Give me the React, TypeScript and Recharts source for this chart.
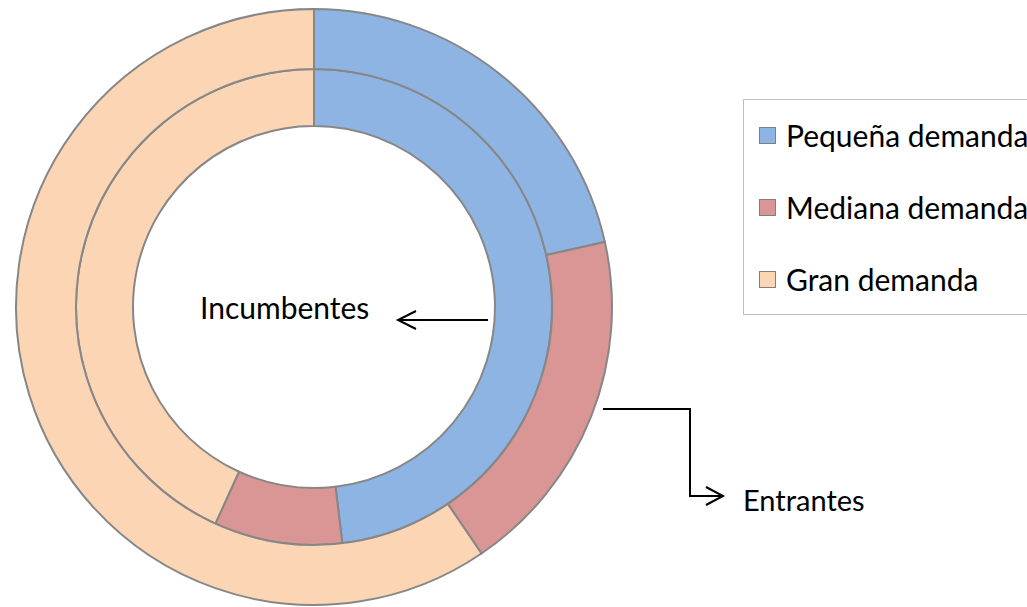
import React from 'react';
import { PieChart, Pie, Cell, Legend, Customized } from 'recharts';

const categories = ['Pequeña demanda', 'Mediana demanda', 'Gran demanda'];
const colors = ['#8EB4E3', '#D99694', '#FCD5B5'];
// share of each group (%)
const incumbentes = [48.1, 8.7, 43.2];
const entrantes = [21.5, 19.0, 59.5];
const ringNames = ['Incumbentes', 'Entrantes'];

const innerData = categories.map((name, i) => ({ name, value: incumbentes[i] }));
const outerData = categories.map((name, i) => ({ name, value: entrantes[i] }));

const FONT = 'Lato, "Open Sans", sans-serif';

const LegendBox = () => (
  <div
    style={{
      width: 300,
      height: 216,
      border: '1.5px solid #bfbfbf',
      boxSizing: 'border-box',
      paddingTop: 17,
      paddingLeft: 15,
      fontFamily: FONT,
      fontSize: 30,
      color: '#000',
    }}
  >
    {categories.map((c, i) => (
      <div key={c} style={{ display: 'flex', alignItems: 'center', height: 72, marginTop: i === 0 ? -18 : 0 }}>
        <span
          style={{
            display: 'inline-block',
            width: 15,
            height: 15,
            background: colors[i],
            border: '1.5px solid #7f7f7f',
            marginRight: 10,
          }}
        />
        <span style={{ whiteSpace: 'nowrap' }}>{c}</span>
      </div>
    ))}
  </div>
);

const Annotations = () => (
  <g fontFamily={FONT} fill="#000">
    <text x={200} y={319} fontSize={30}>
      {ringNames[0]}
    </text>
    <line x1={488} y1={320} x2={399} y2={320} stroke="#000" strokeWidth={2} />
    <polyline points="416,311 398,320 416,329" fill="none" stroke="#000" strokeWidth={2} />
    <polyline points="603,409 690,409 690,496 722,496" fill="none" stroke="#000" strokeWidth={2} />
    <polyline points="706,487 723,496 706,505" fill="none" stroke="#000" strokeWidth={2} />
    <text x={743} y={511} fontSize={29}>
      {ringNames[1]}
    </text>
  </g>
);

export default function App() {
  return (
    <div style={{ position: 'absolute', left: 0, top: 0, width: 1027, height: 607, background: '#fff', overflow: 'hidden' }}>
      <PieChart width={1027} height={607} margin={{ top: 0, right: 0, bottom: 0, left: 0 }}>
        <Pie
          data={innerData}
          dataKey="value"
          nameKey="name"
          cx={314}
          cy={307}
          innerRadius={181}
          outerRadius={238}
          startAngle={90}
          endAngle={-270}
          stroke="#878787"
          strokeWidth={2}
          isAnimationActive={false}
          legendType="none"
        >
          {innerData.map((d, i) => (
            <Cell key={d.name} fill={colors[i]} />
          ))}
        </Pie>
        <Pie
          data={outerData}
          dataKey="value"
          nameKey="name"
          cx={314}
          cy={307}
          innerRadius={238}
          outerRadius={298}
          startAngle={90}
          endAngle={-270}
          stroke="#878787"
          strokeWidth={2}
          isAnimationActive={false}
          legendType="none"
        >
          {outerData.map((d, i) => (
            <Cell key={d.name} fill={colors[i]} />
          ))}
        </Pie>
        <Legend
          content={() => <LegendBox />}
          wrapperStyle={{ position: 'absolute', left: 743, top: 99, width: 300 }}
        />
        <Customized component={Annotations} />
      </PieChart>
    </div>
  );
}
